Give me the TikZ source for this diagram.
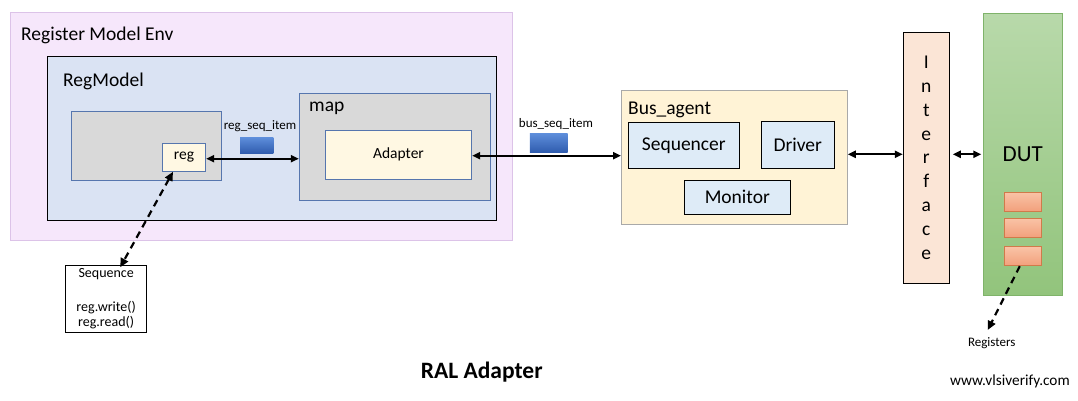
\documentclass[tikz,border=0pt]{standalone}
\usepackage{fontspec}
\setmainfont{Carlito}
\usetikzlibrary{arrows.meta,calc}
\definecolor{envfill}{HTML}{F6E7FB}
\definecolor{envdraw}{HTML}{DCC3E8}
\definecolor{rmfill}{HTML}{DAE3F3}
\definecolor{grayfill}{HTML}{D9D9D9}
\definecolor{bluedraw}{HTML}{5676AE}
\definecolor{creamfill}{HTML}{FFF8E3}
\definecolor{agentfill}{HTML}{FFF3D6}
\definecolor{agentdraw}{HTML}{A9A9A9}
\definecolor{compfill}{HTML}{DEEBF7}
\definecolor{iffill}{HTML}{FBE5D6}
\definecolor{duttop}{HTML}{B8D9AA}
\definecolor{dutbot}{HTML}{92C47C}
\definecolor{dutdraw}{HTML}{7FB36A}
\definecolor{regtop}{HTML}{F9C3A6}
\definecolor{regbot}{HTML}{F2A07C}
\definecolor{regdraw}{HTML}{D07A4A}
\definecolor{itemtop}{HTML}{5E8EDB}
\definecolor{itembot}{HTML}{2F5CAE}
\tikzset{
  box/.style={rectangle, inner sep=0pt, line width=0.9pt},
  big/.style={font=\fontsize{19.5}{23}\selectfont},
  mid/.style={font=\fontsize{15.5}{18}\selectfont},
  small/.style={font=\fontsize{13}{15}\selectfont},
  item/.style={box, draw=none, top color=itemtop, bottom color=itembot},
  dutreg/.style={box, draw=regdraw, top color=regtop, bottom color=regbot, minimum width=37.7pt, minimum height=19pt},
  link/.style={line width=2pt, {Triangle[length=8pt,width=7pt]}-{Triangle[length=8pt,width=7pt]}},
  dashlink/.style={line width=2.2pt, dash pattern=on 7pt off 5pt}
}
\begin{document}
\begin{tikzpicture}[x=1pt,y=-1pt]
\useasboundingbox (0,0) rectangle (1078,400);
% Register model env
\node[box, draw=envdraw, fill=envfill, minimum width=502.5pt, minimum height=228.4pt] (env) at (261.25,126.5) {};
\node[big, anchor=base west, inner sep=0pt] (envlbl) at (21,40.5) {Register Model Env};
\node[box, draw=black, line width=1.2pt, fill=rmfill, minimum width=449pt, minimum height=164pt] (regmodel) at (272.2,138.3) {};
\node[big, anchor=base west, inner sep=0pt] (rmlbl) at (63,86) {RegModel};
\node[box, draw=bluedraw, fill=grayfill, minimum width=150pt, minimum height=69pt] (block) at (146.3,145.8) {};
\node[box, draw=bluedraw, fill=creamfill, minimum width=43.4pt, minimum height=28pt, mid] (reg) at (184,157.3) {reg};
\node[box, draw=bluedraw, fill=grayfill, minimum width=191.4pt, minimum height=106.6pt] (map) at (395,147) {};
\node[big, anchor=base west, inner sep=0pt] (maplbl) at (309,111.5) {map};
\node[box, draw=bluedraw, fill=creamfill, minimum width=146.4pt, minimum height=49pt, mid] (adapter) at (398.5,154.8) {Adapter};
\node[item, minimum width=33.3pt, minimum height=16pt] (regitem) at (256.7,145.3) {};
\node[small, anchor=base, inner sep=0pt] (regitemlbl) at (260,129.5) {reg\_seq\_item};
% bus side
\node[item, minimum width=37.7pt, minimum height=19pt] (busitem) at (548.8,142.8) {};
\node[small, anchor=base, inner sep=0pt] (busitemlbl) at (556,127.5) {bus\_seq\_item};
\node[box, draw=agentdraw, fill=agentfill, minimum width=225.8pt, minimum height=134pt] (agent) at (734.4,157) {};
\node[big, anchor=base west, inner sep=0pt] (agentlbl) at (628,114) {Bus\_agent};
\node[box, draw=black, fill=compfill, minimum width=111pt, minimum height=46pt, big] (sequencer) at (683.8,145.3) {Sequencer};
\node[box, draw=black, fill=compfill, minimum width=73.3pt, minimum height=47pt, big] (driver) at (797.7,144.8) {Driver};
\node[box, draw=black, fill=compfill, minimum width=106pt, minimum height=34.7pt, big] (monitor) at (737.3,197.3) {Monitor};
\node[box, draw=black, fill=iffill, minimum width=46pt, minimum height=251pt, align=center, font=\fontsize{19.5}{23.9}\selectfont] (interface) at (926.3,157.8) {I\\n\\t\\e\\r\\f\\a\\c\\e};
\node[box, draw=dutdraw, top color=duttop, bottom color=dutbot, minimum width=79.4pt, minimum height=282pt] (dut) at (1023,154.3) {};
\node[font=\fontsize{23}{26}\selectfont, inner sep=0pt] (dutlbl) at (1022.7,154.3) {DUT};
\node[dutreg] (r1) at (1022.8,201.8) {};
\node[dutreg] (r2) at (1022.8,227.8) {};
\node[dutreg] (r3) at (1022.8,256.2) {};
\node[small, inner sep=0pt] (regslbl) at (991.7,343.3) {Registers};
\coordinate (regtip) at (987.7,330);
% sequence box
\node[box, draw=black, fill=white, minimum width=81pt, minimum height=67.3pt, align=center, font=\fontsize{14}{15}\selectfont] (seqbox) at (106.2,298.7) {Sequence\\[18.7pt]reg.write()\\reg.read()};
% titles
\node[font=\bfseries\fontsize{23.5}{26}\selectfont, inner sep=0pt] (title) at (481.7,372.3) {RAL Adapter};
\node[font=\fontsize{15.3}{18}\selectfont, inner sep=0pt] (www) at (1010,381) {www.vlsiverify.com};
% connectors
\draw[link] (reg.east |- 0,158.7) -- (map.west |- 0,158.7);
\draw[link] (adapter.east |- 0,155.7) -- (agent.west |- 0,155.7);
\draw[link] (agent.east |- dut.center) -- (interface.west |- dut.center);
\draw[link] ([xshift=3pt]interface.east |- dut.center) -- ([xshift=-1.5pt]dut.west);
\draw[dashlink, {Triangle[length=9pt,width=8pt]}-{Triangle[length=9pt,width=8pt]}] ([xshift=-11pt]reg.south) -- ([xshift=14pt,yshift=-2.7pt]seqbox.north);
\draw[dashlink, -{Triangle[length=9pt,width=8pt]}] ([xshift=-3pt]r3.south) -- (regtip);
\end{tikzpicture}
\end{document}
